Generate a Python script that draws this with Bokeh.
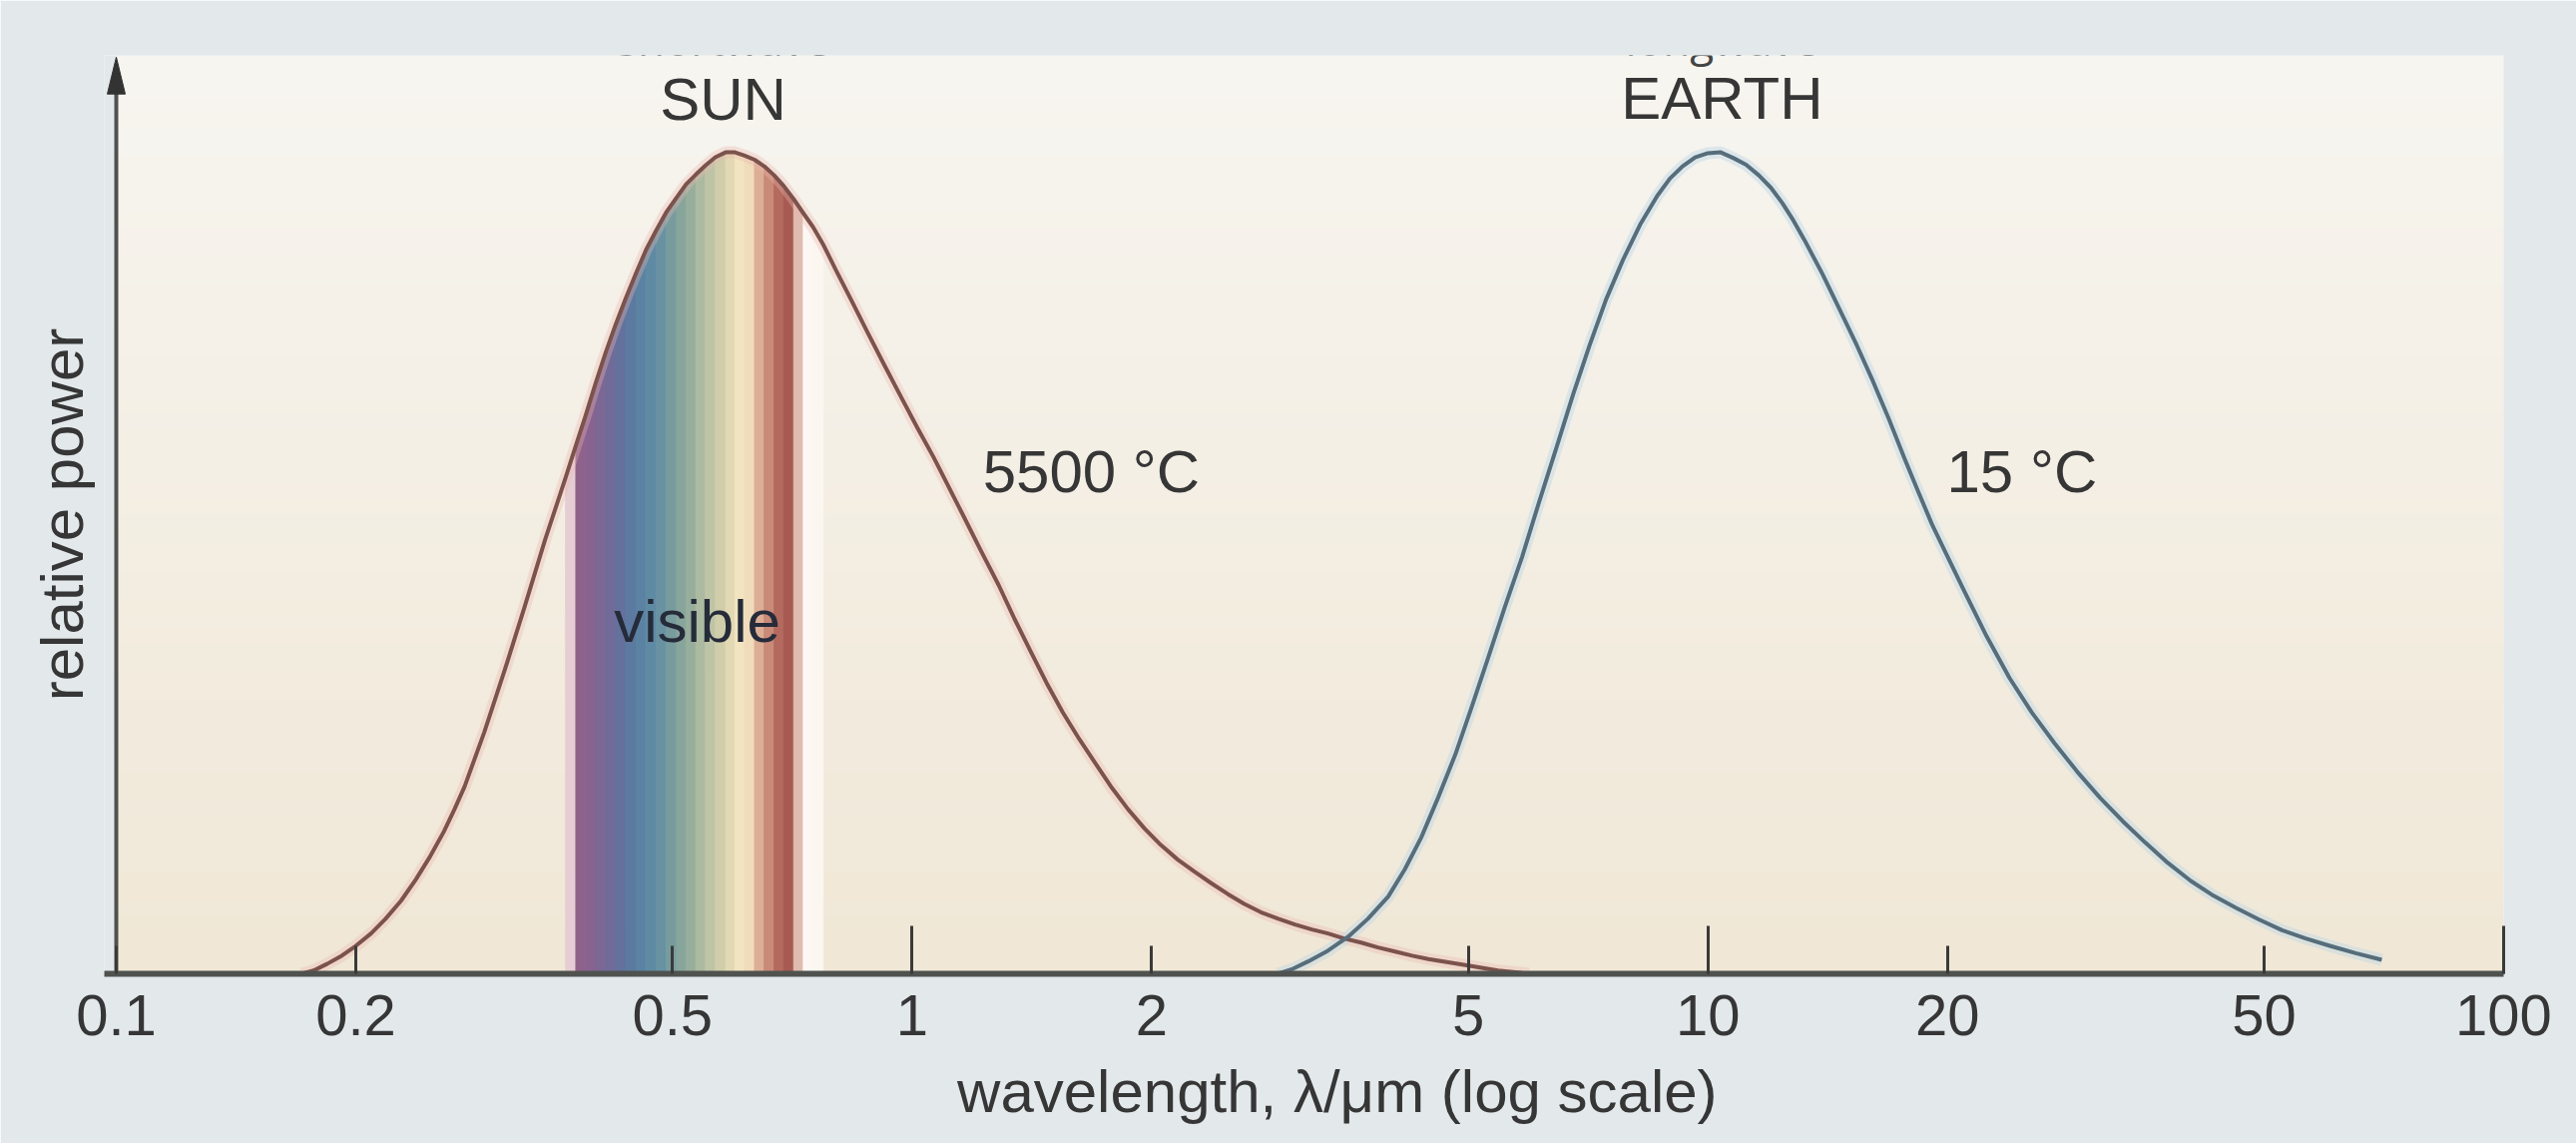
import numpy as np
from bokeh.plotting import figure
from bokeh.models import FixedTicker, CustomJSTickFormatter, Label, Range1d
from bokeh.embed import file_html
from bokeh.resources import INLINE

# ---------------- data ----------------
# Sun curve (5500 °C): wavelength in micrometres, relative power (peak = 1)
sun_wl = [0.171, 0.177, 0.184, 0.192, 0.200, 0.209, 0.218, 0.228, 0.238, 0.248,
          0.258, 0.266, 0.274, 0.290, 0.308, 0.326, 0.346, 0.367, 0.378, 0.389,
          0.400, 0.412, 0.424, 0.437, 0.450, 0.463, 0.477, 0.491, 0.506, 0.520,
          0.535, 0.550, 0.566, 0.583, 0.599, 0.616, 0.634, 0.652, 0.671, 0.690,
          0.710, 0.730, 0.751, 0.773, 0.787, 0.802, 0.840, 0.880, 0.923, 0.969,
          1.015, 1.064, 1.110, 1.158, 1.219, 1.285, 1.345, 1.410, 1.476, 1.547,
          1.624, 1.703, 1.784, 1.869, 1.959, 2.053, 2.157, 2.266, 2.379, 2.494,
          2.615, 2.743, 2.885, 3.028, 3.180, 3.332, 3.490, 3.667, 3.850, 4.047,
          4.250, 4.454, 4.720, 5.000, 5.450, 5.960]
sun_pw = [0.000, 0.004, 0.012, 0.022, 0.034, 0.049, 0.067, 0.089, 0.115, 0.143,
          0.173, 0.200, 0.228, 0.294, 0.371, 0.447, 0.529, 0.604, 0.643, 0.680,
          0.718, 0.756, 0.790, 0.823, 0.853, 0.881, 0.905, 0.927, 0.945, 0.961,
          0.973, 0.984, 0.994, 1.000, 1.000, 0.996, 0.991, 0.983, 0.972, 0.959,
          0.943, 0.926, 0.909, 0.888, 0.873, 0.857, 0.819, 0.780, 0.741, 0.702,
          0.665, 0.629, 0.594, 0.559, 0.516, 0.473, 0.432, 0.392, 0.354, 0.318,
          0.285, 0.255, 0.226, 0.200, 0.177, 0.157, 0.139, 0.124, 0.110, 0.097,
          0.085, 0.075, 0.067, 0.060, 0.054, 0.049, 0.043, 0.038, 0.032, 0.027,
          0.022, 0.018, 0.014, 0.010, 0.004, 0.000]

# Earth curve (15 °C)
earth_wl = [2.882, 3.010, 3.145, 3.330, 3.531, 3.740, 3.966, 4.160, 4.364, 4.580,
            4.816, 5.050, 5.301, 5.560, 5.840, 6.140, 6.450, 6.770, 7.102, 7.450,
            7.822, 8.220, 8.637, 8.960, 9.294, 9.640, 10.00, 10.38, 10.77, 11.17,
            11.59, 12.00, 12.41, 12.81, 13.23, 13.93, 14.67, 15.39, 16.13, 16.89,
            17.67, 18.38, 19.13, 20.03, 20.97, 22.40, 23.94, 25.54, 27.25, 29.12,
            31.12, 33.20, 35.43, 37.85, 40.45, 43.20, 46.17, 49.30, 52.67, 56.40,
            60.47, 65.20, 70.28]
earth_pw = [0.000, 0.006, 0.015, 0.028, 0.045, 0.067, 0.094, 0.127, 0.166, 0.214,
            0.267, 0.325, 0.386, 0.447, 0.507, 0.575, 0.640, 0.705, 0.765, 0.821,
            0.869, 0.912, 0.947, 0.968, 0.983, 0.994, 0.999, 1.000, 0.993, 0.985,
            0.972, 0.957, 0.938, 0.917, 0.893, 0.852, 0.807, 0.765, 0.721, 0.675,
            0.627, 0.587, 0.547, 0.507, 0.467, 0.411, 0.360, 0.318, 0.281, 0.246,
            0.214, 0.186, 0.160, 0.135, 0.113, 0.095, 0.080, 0.066, 0.053, 0.043,
            0.034, 0.025, 0.017]

# visible band under the sun curve (edges are points of the sun curve)
visible_range = [0.367, 0.773]
spectrum_colors = ["#e6cdd3", "#8f628c", "#886390", "#7d6794", "#716b99",
                   "#64719d", "#5c79a0", "#5b82a2", "#5f8aa3", "#6892a2",
                   "#789c9e", "#88a59b", "#98ae9c", "#abbaa0", "#bec4a6",
                   "#d0cdab", "#e2d8b4", "#f2e4c0", "#f0dbbb", "#dcae95",
                   "#c98a78", "#b46a5e", "#a65a52", "#dfbbb0", "#fcf7f2",
                   "#fbf6f0"]

# axis ticks
x_ticks = [0.1, 0.2, 0.5, 1, 2, 5, 10, 20, 50, 100]
x_tick_labels = ["0.1", "0.2", "0.5", "1", "2", "5", "10", "20", "50", "100"]
x_long_ticks = [1, 10, 100]

# text annotations: (text, wavelength, relative power)
curve_titles = [("SUN", 0.579, 1.064), ("EARTH", 10.42, 1.066)]
temp_labels = [("5500 °C", 1.227, 0.611), ("15 °C", 19.96, 0.611)]
band_label = ("visible", 0.537, 0.429)
range_titles = [("shortwave", 0.579, 1.1385), ("longwave", 10.42, 1.1385)]

X_AXIS = (0.1, 100)          # extent of the drawn x axis / cream panel
Y_RANGE = (0, 1.118)
PX_PER_DECADE = 797.33
LEFT_PAD_PX = 12             # small gap left of the y axis so its arrow head is not clipped
x_start = X_AXIS[0] * 10 ** (-LEFT_PAD_PX / PX_PER_DECADE)

FONT = "Liberation Sans"
TXT = "#363636"
BORDER = "#e3e9eb"

p = figure(width=2581, height=1145, x_axis_type="log",
           x_range=Range1d(x_start, X_AXIS[1]), y_range=Range1d(*Y_RANGE),
           output_backend="svg", toolbar_location=None,
           min_border_left=116 - LEFT_PAD_PX, min_border_right=73,
           min_border_top=55, min_border_bottom=170,
           background_fill_color=BORDER, border_fill_color=BORDER)
p.outline_line_color = None
p.grid.visible = False

# cream background with a soft vertical gradient (from the y axis rightwards)
n = 64
bottom = np.array([240, 231, 214], dtype=float)
top = np.array([247, 245, 240], dtype=float)
t = np.linspace(0, 1, n)[:, None]
rgb = (bottom * (1 - t) + top * t).round().astype(np.uint8)
img = np.empty((n, 1), dtype=np.uint32)
view = img.view(dtype=np.uint8).reshape((n, 1, 4))
view[:, 0, 0:3] = rgb
view[:, 0, 3] = 255
p.image_rgba(image=[img], x=X_AXIS[0], y=Y_RANGE[0],
             dw=X_AXIS[1] - X_AXIS[0], dh=Y_RANGE[1] - Y_RANGE[0])

# visible spectrum strips, bounded above by the sun curve
i0 = sun_wl.index(visible_range[0])
i1 = sun_wl.index(visible_range[1])
xs = [[sun_wl[i], sun_wl[i], sun_wl[i + 1], sun_wl[i + 1]] for i in range(i0, i1)]
ys = [[0, sun_pw[i], sun_pw[i + 1], 0] for i in range(i0, i1)]
p.patches(xs, ys, fill_color=spectrum_colors, line_color=spectrum_colors, line_width=1)

# soft halos + curves
p.line(sun_wl, sun_pw, line_color="#eab7b0", line_width=12, line_alpha=0.35)
p.line(earth_wl, earth_pw, line_color="#bcd6e6", line_width=12, line_alpha=0.45)
p.line(sun_wl, sun_pw, line_color="#7c524c", line_width=4, line_join="round")
p.line(earth_wl, earth_pw, line_color="#566d7b", line_width=4, line_join="round")

# y axis line with an arrow head at x = 0.1
tip = 1.116
head_len = 0.045
f = 10 ** (9 / PX_PER_DECADE)
p.segment(x0=[X_AXIS[0]], y0=[Y_RANGE[0]], x1=[X_AXIS[0]], y1=[tip - head_len / 2],
          line_color="#505250", line_width=4)
p.patch([X_AXIS[0] / f, X_AXIS[0], X_AXIS[0] * f],
        [tip - head_len, tip, tip - head_len],
        fill_color="#333333", line_color="#333333", line_width=1)

# x axis
xa = p.xaxis[0]
xa.ticker = FixedTicker(ticks=x_ticks, minor_ticks=x_long_ticks)
xa.formatter = CustomJSTickFormatter(
    args=dict(tick_vals=x_ticks, tick_texts=x_tick_labels),
    code="""
    for (let i = 0; i < tick_vals.length; i++) {
        if (Math.abs(tick_vals[i] - tick) < 1e-9 * Math.max(1, Math.abs(tick))) return tick_texts[i];
    }
    return '';
    """)
xa.major_tick_in = 28
xa.major_tick_out = 0
xa.minor_tick_in = 48
xa.minor_tick_out = 0
xa.major_tick_line_width = 3
xa.minor_tick_line_width = 3
xa.major_tick_line_color = "#3a3a3a"
xa.minor_tick_line_color = "#3a3a3a"
xa.axis_line_width = 6
xa.axis_line_color = "#4f524f"
xa.major_label_text_font = FONT
xa.major_label_text_font_size = "58px"
xa.major_label_text_color = TXT
xa.major_label_standoff = 21
# leading no-break spaces nudge the centred title right, as in the reference
xa.axis_label = "\u00a0\u00a0\u00a0\u00a0wavelength, λ/μm (log scale)"
xa.axis_label_text_font = FONT
xa.axis_label_text_font_size = "60px"
xa.axis_label_text_font_style = "normal"
xa.axis_label_text_color = TXT
xa.axis_label_standoff = 20

# y axis (title only; its line is drawn at x = 0.1 above)
ya = p.yaxis[0]
ya.ticker = FixedTicker(ticks=[])
ya.axis_line_color = None
ya.major_tick_line_color = None
ya.minor_tick_line_color = None
ya.major_label_text_font_size = "0px"
ya.axis_label = "relative power"
ya.axis_label_text_font = FONT
ya.axis_label_text_font_size = "60px"
ya.axis_label_text_font_style = "normal"
ya.axis_label_text_color = TXT
ya.axis_label_standoff = 21 - LEFT_PAD_PX

for txt, x, y in curve_titles:
    p.add_layout(Label(x=x, y=y, text=txt, text_align="center", text_baseline="middle",
                       text_font=FONT, text_font_size="60px", text_color=TXT))
for txt, x, y in temp_labels:
    p.add_layout(Label(x=x, y=y, text=txt, text_align="left", text_baseline="middle",
                       text_font=FONT, text_font_size="60px", text_color=TXT))
p.add_layout(Label(x=band_label[1], y=band_label[2], text=band_label[0],
                   text_align="center", text_baseline="middle",
                   text_font=FONT, text_font_size="60px", text_color="#262b3a"))
for txt, x, y in range_titles:
    p.add_layout(Label(x=x, y=y, text=txt, text_align="center", text_baseline="alphabetic",
                       text_font="Open Sans", text_font_size="44px", text_color="#444444"))

open("out.html", "w").write(file_html(p, INLINE))
